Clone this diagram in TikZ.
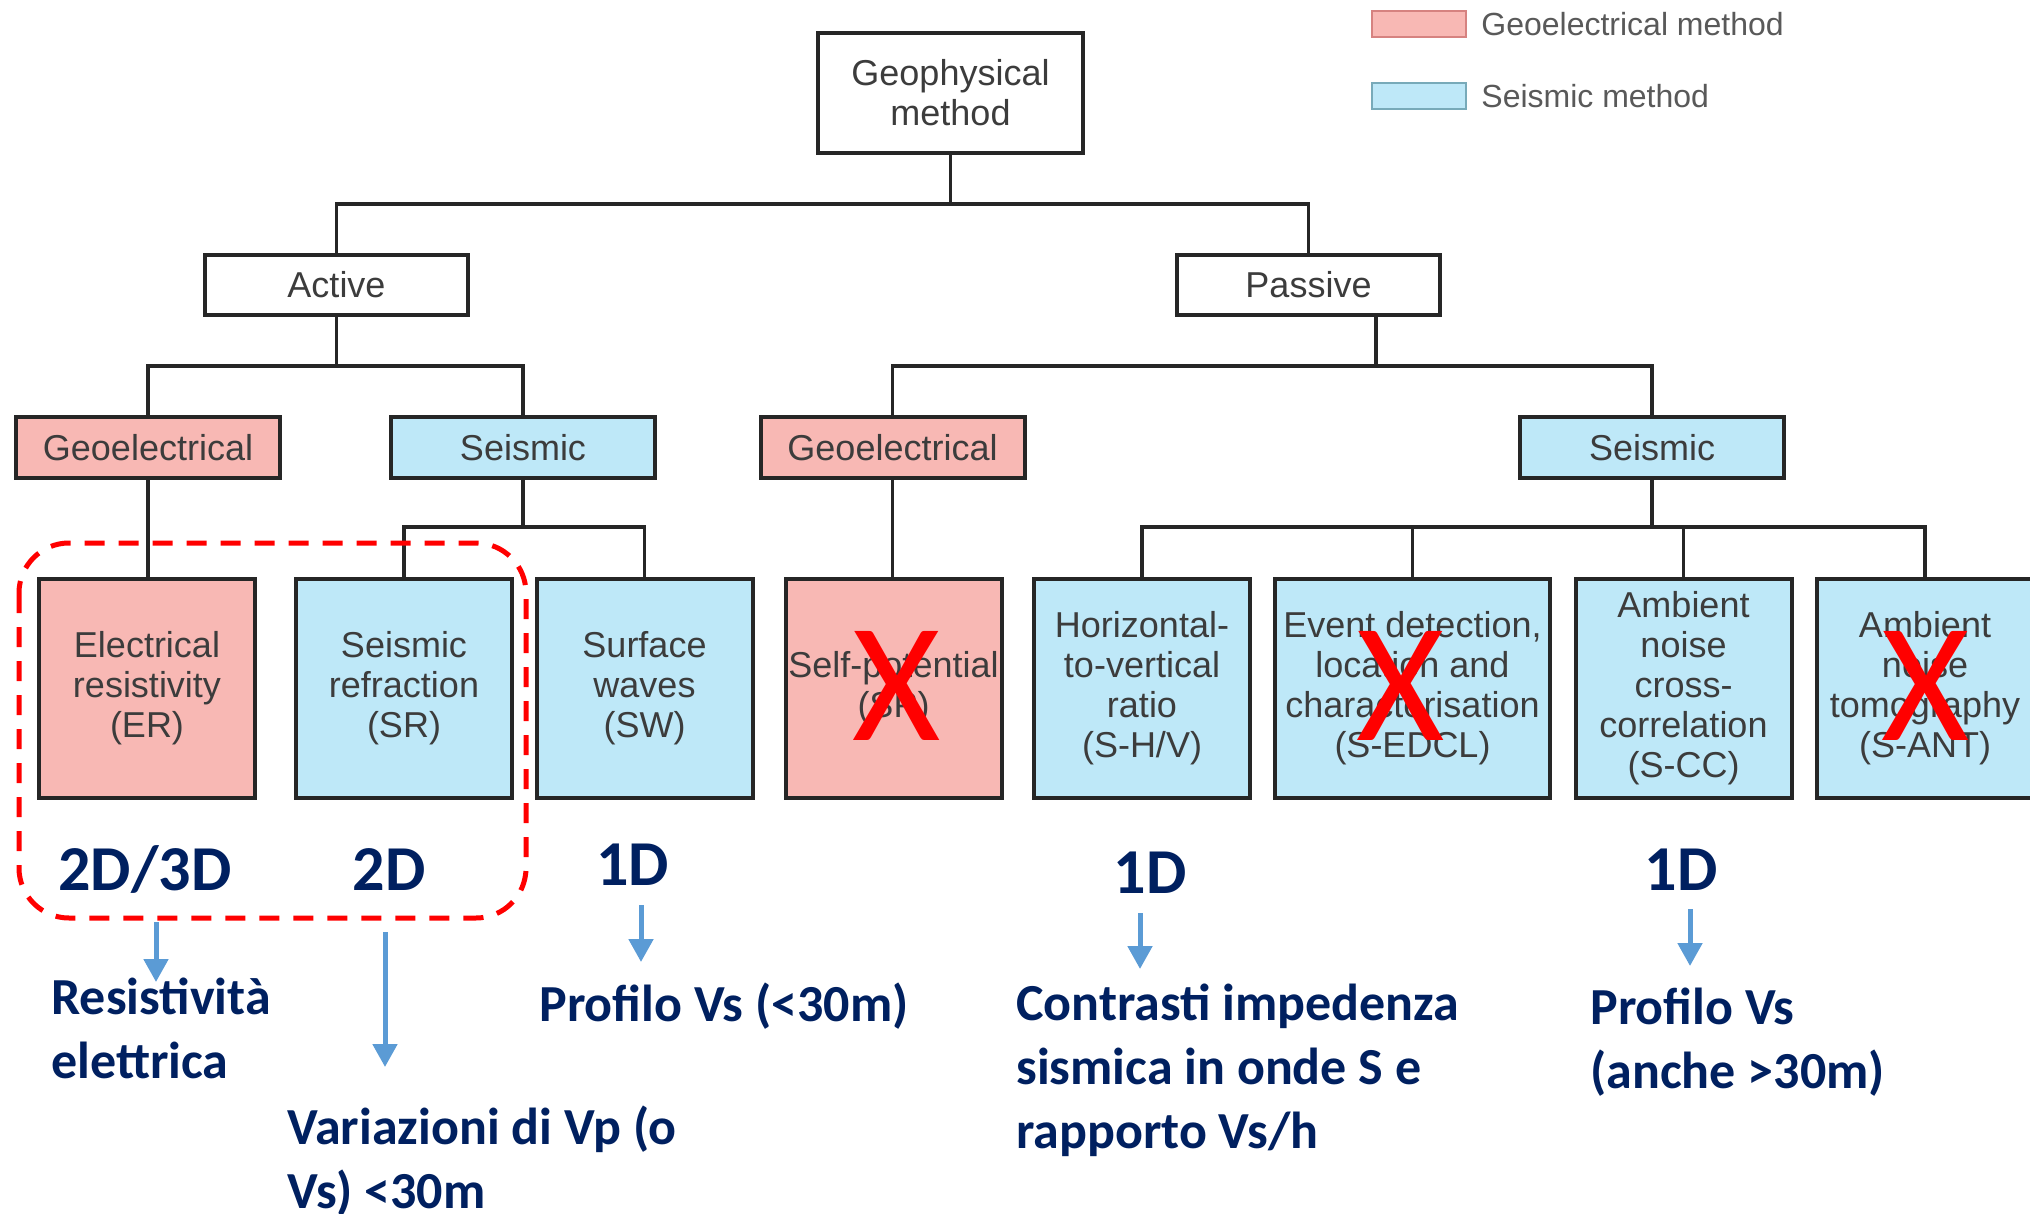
\documentclass[tikz,border=0pt]{standalone}
\usepackage{fontspec}
\setmainfont{Liberation Sans}
\newfontfamily\calib{Carlito}
\usetikzlibrary{arrows.meta}

\definecolor{geoel}{RGB}{248,184,180}
\definecolor{seism}{RGB}{190,232,248}
\definecolor{darkblu}{RGB}{0,32,96}
\definecolor{arrblu}{RGB}{91,155,213}
\definecolor{txtgray}{RGB}{60,60,60}
\definecolor{geoline}{RGB}{214,130,128}
\definecolor{seisline}{RGB}{120,170,185}

\begin{document}
\begin{tikzpicture}[x=0.5pt, y=-0.5pt,
	box/.style={draw=black!85, line width=2pt, text=txtgray, align=center, inner sep=0pt,
		font=\fontsize{18}{20}\selectfont},
	head/.style={box, minimum width=132pt, minimum height=30.5pt},
	leaf/.style={box, minimum width=108pt, minimum height=109.5pt},
	link/.style={draw=black!85, line width=1.8pt},
	dim/.style={text=darkblu, font=\calib\bfseries\fontsize{32}{36}\selectfont, inner sep=0pt, anchor=base},
	note/.style={text=darkblu, font=\calib\bfseries\fontsize{26}{32}\selectfont, inner sep=0pt, align=left, anchor=base west},
	res/.style={arrblu, line width=2.5pt, -{Triangle[length=11.5pt,width=12pt]}},
	cross/.style={text=red, font=\calib\fontsize{85}{85}\selectfont, inner sep=0pt},
	legbox/.style={line width=1pt, minimum width=47pt, minimum height=13pt, inner sep=0pt},
	legtxt/.style={text=black!65, font=\fontsize{16}{18}\selectfont, anchor=west, inner sep=0pt}
]
\useasboundingbox (0,0) rectangle (2030,1214);

% legend
\node[legbox, fill=geoel, draw=geoline] (lg1) at (1419,24) {};
\node[legtxt] (lt1) at (1481,24) {Geoelectrical method};
\node[legbox, fill=seism, draw=seisline] (lg2) at (1419,96) {};
\node[legtxt] (lt2) at (1481,96) {Seismic method};

% tree
\node[box, minimum width=132.5pt, minimum height=60pt] (geo) at (950.5,93) {Geophysical\\method};
\node[box, minimum width=131.5pt, minimum height=30pt] (act) at (336.5,285) {Active};
\node[box, minimum width=131.5pt, minimum height=30pt] (pas) at (1308.5,285) {Passive};

\node[head, fill=geoel] (geA) at (148,447.5) {Geoelectrical};
\node[head, fill=seism] (seA) at (523,447.5) {Seismic};
\node[head, fill=geoel] (geP) at (892.5,447.5) {Geoelectrical};
\node[head, fill=seism] (seP) at (1652,447.5) {Seismic};

\node[leaf, fill=geoel] (er) at (147,688.5) {Electrical\\resistivity\\(ER)};
\node[leaf, fill=seism] (sr) at (404,688.5) {Seismic\\refraction\\(SR)};
\node[leaf, fill=seism] (sw) at (644.5,688.5) {Surface\\waves\\(SW)};
\node[leaf, fill=geoel] (sp) at (893.5,688.5) {Self-potential\\(SP)};
\node[leaf, fill=seism] (hv) at (1142,688.5) {Horizontal-\\to-vertical\\ratio\\(S-H/V)};
\node[leaf, fill=seism, minimum width=137.5pt] (edcl) at (1412.5,688.5) {Event detection,\\location and\\characterisation\\(S-EDCL)};
\node[leaf, fill=seism] (cc) at (1683.5,688.5) {Ambient\\noise\\cross-\\correlation\\(S-CC)};
\node[leaf, fill=seism] (ant) at (1925,688.5) {Ambient\\noise\\tomography\\(S-ANT)};

% connectors
\coordinate (j0) at (950.5,204);
\coordinate (j1) at (336.5,366);
\coordinate (j2) at (1376,366);
\coordinate (j3) at (523,527);
\coordinate (j4) at (1652,527);
\draw[link] (geo) -- (j0);
\draw[link] (act.north) |- (j0) -| (pas.north);
\draw[link] (act) -- (j1);
\draw[link] (geA.north) |- (j1) -| (seA.north);
\draw[link] (j2 |- pas.south) -- (j2);
\draw[link] (geP.north) |- (j2) -| (seP.north);
\draw[link] (geA.south) -- (geA.south |- er.north);
\draw[link] (seA) -- (j3);
\draw[link] (sr.north) |- (j3) -| (sw.north);
\draw[link] (geP.south) -- (geP.south |- sp.north);
\draw[link] (seP) -- (j4);
\draw[link] (hv.north) |- (j4) -| (ant.north);
\draw[link] (edcl.north) -- (edcl.north |- j4);
\draw[link] (cc.north) -- (cc.north |- j4);

% crossed out methods
\node[cross] (xsp) at (897,686) {X};
\node[cross] (xedcl) at (1401,686) {X};
\node[cross] (xant) at (1926,686) {X};

% 2D group
\draw[red, line width=2.5pt, dash pattern=on 10pt off 7pt, rounded corners=25pt] (19,543) rectangle (526,918);

% dimensions
\node[dim] (d1) at (145,890) {2D/3D};
\node[dim] (d2) at (389,890) {2D};
\node[dim] (d3) at (632.5,885) {1D};
\node[dim] (d4) at (1150,893) {1D};
\node[dim] (d5) at (1681,890) {1D};

% results (base = last line)
\node[note] (n1) at (51,1078) {Resistività\\elettrica};
\node[note] (n2) at (287,1208) {Variazioni di Vp (o\\Vs) <30m};
\node[note] (n3) at (539,1021) {Profilo Vs (<30m)};
\node[note] (n4) at (1016,1148) {Contrasti impedenza\\sismica in onde S e\\rapporto Vs/h};
\node[note] (n5) at (1590,1088) {Profilo Vs\\(anche >30m)};

\foreach \x/\ya/\yb [count=\i] in {156/922/982, 385/932/1067, 641/905/962, 1140/913/969, 1690/909/966}{
	\coordinate (a\i) at (\x,\ya);
	\coordinate (b\i) at (\x,\yb);
	\draw[res] (a\i) -- (b\i);
}
\end{tikzpicture}
\end{document}
